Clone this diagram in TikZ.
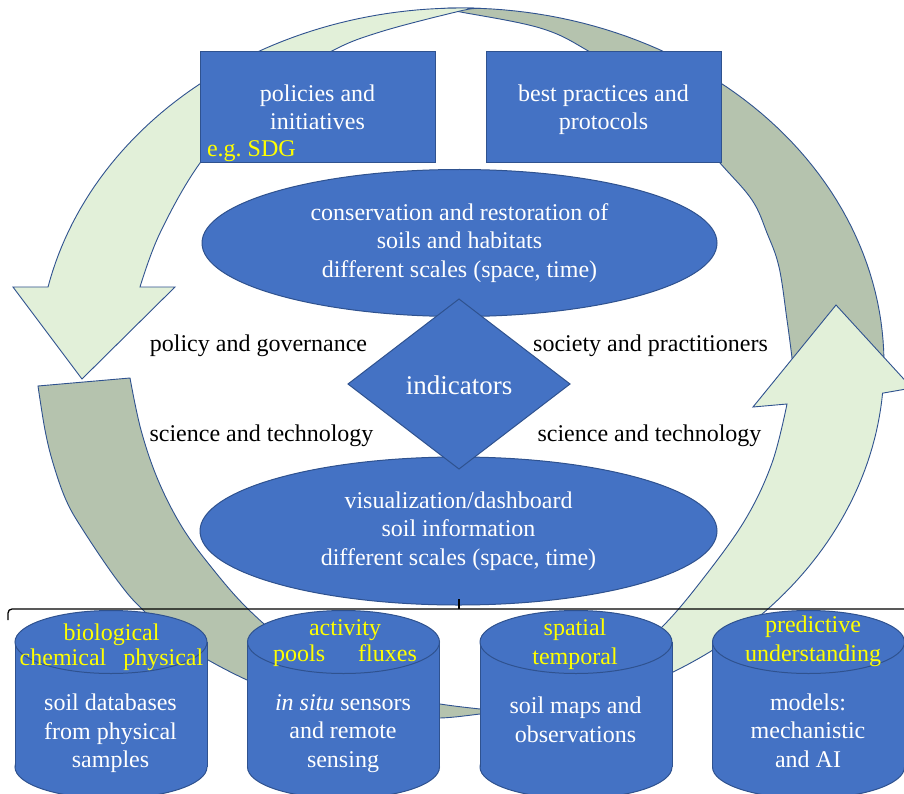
\documentclass[tikz,border=0pt]{standalone}
\usepackage{fontspec}
\setmainfont{Liberation Serif}
\usetikzlibrary{shapes.geometric}
\definecolor{pblue}{HTML}{4472C4}
\definecolor{pedge}{HTML}{2F528F}
\definecolor{lgreen}{HTML}{E2F0D9}
\definecolor{ggreen}{HTML}{B5C3AE}
\definecolor{ylw}{HTML}{FFFF00}
\newcommand{\tstrut}{\rule[-5.5pt]{0pt}{29.5pt}}
\newcommand{\bigstrut}{\rule[-3pt]{0pt}{27pt}}
\begin{document}
\begin{tikzpicture}[x=1pt,y=-1pt,
  every node/.style={inner sep=0pt, outer sep=0pt},
  tx/.style={font={\fontsize{24}{28.5}\selectfont\lineskiplimit=-100pt}, align=center, execute at begin node=\tstrut, execute at end node=\tstrut},
  wt/.style={tx, text=white},
  yt/.style={tx, text=ylw},
  bk/.style={tx, text=black},
  bluebox/.style={rectangle, draw=pedge, fill=pblue, line width=1pt, minimum width=235pt, minimum height=111pt},
  blueell/.style={ellipse, draw=pedge, fill=pblue, line width=1pt, wt},
  arrowlight/.style={draw=pedge, fill=lgreen, line width=0.9pt},
  arrowgray/.style={draw=pedge, fill=ggreen, line width=0.9pt},
  cylfill/.style={fill=pblue},
  cylline/.style={draw=pedge, line width=1pt},
  braceline/.style={draw=black, line width=1.3pt},
]
\useasboundingbox (0,0) rectangle (904,794);
\fill[white] (0,0) rectangle (904,794);

% ---- arrow B (gray, top right)
\filldraw[arrowgray] plot[domain=92.2:-1, samples=60, variable=\t] ({461+423*cos(\t)},{364-356*sin(\t)})
  -- (793,370)
  -- plot[smooth, tension=0.6] coordinates {(793,370) (792,358) (787,320) (779,267) (767,233) (752,200) (720,163) (664,100) (590,52) (540,28) (458,11.5) (445,8.6)}
  -- cycle;
% ---- arrow C (light, bottom right, pointing up)
\filldraw[arrowlight] plot[domain=-79.2:-4.7, samples=60, variable=\t] ({461+423*cos(\t)},{364-356*sin(\t)})
  -- (912,388) -- (836,305) -- (753,407) -- (787,404)
  -- plot[smooth, tension=0.6] coordinates {(787,404) (772,463) (745,520) (702,580) (662,627) (620,662) (580,690) (540,713)}
  -- cycle;
% ---- arrow D (gray, bottom left)
\filldraw[arrowgray] plot[smooth, tension=0.6] coordinates {(38,386) (45,430) (53,463) (66,500) (83,530) (117,580) (143,610) (187,647) (247,680) (300,699) (350,710) (400,716) (440,718) (480,714) (502,711)}
  -- plot[smooth, tension=0.6] coordinates {(502,711) (480,709) (440,704) (390,695) (340,676) (290,645) (247,608) (212,568) (182,527) (158,480) (141,430) (130,378)}
  -- cycle;
% ---- arrow A (light, top left, pointing down)
\filldraw[arrowlight] plot[domain=87.8:167.5, samples=60, variable=\t] ({461+423*cos(\t)},{364-356*sin(\t)})
  -- (13,287) -- (82,379) -- (175,287) -- (140,287)
  -- plot[smooth, tension=0.6] coordinates {(140,287) (160,233) (200,163) (258,96) (330,52) (380,32) (458,11.5) (476,8.6)}
  -- cycle;

% ---- boxes
\node[bluebox] (pol) at (317.5,107.5) {};
\node[wt] (poltxt) at (317.5,110) {policies and\\initiatives};
\node[yt, anchor=west] (sdg) at (207,147) {e.g.\ SDG};
\node[bluebox] (best) at (603.5,107.5) {};
\node[wt] (besttxt) at (603.5,110) {best practices and\\protocols};

% ---- ellipses and diamond
\node[blueell, minimum width=515pt, minimum height=147pt] (cons) at (459.5,243) {conservation and restoration of\\soils and habitats\\different scales (space, time)};
\node[blueell, minimum width=517pt, minimum height=148pt] (vis) at (458.5,531) {visualization/dashboard\\soil information\\different scales (space, time)};
\node[diamond, draw=pedge, fill=pblue, line width=1pt, minimum width=222pt, minimum height=170pt, text=white, font=\fontsize{27}{32}\selectfont, execute at begin node=\bigstrut] (ind) at (459,384) {indicators};

% ---- labels
\node[bk] (pg) at (258.5,342) {policy and governance};
\node[bk] (sp) at (650.5,342) {society and practitioners};
\node[bk] (st1) at (261.5,432) {science and technology};
\node[bk] (st2) at (649.5,432) {science and technology};

% ---- brace
\draw[braceline, rounded corners=4pt] (8,620) -- (8,609) -- (910,609);
\draw[draw=black, line width=1.8pt] (459,609) -- (459,599);

% ---- cylinders
\foreach \cx in {111,343.5,576,808.5}{
  \filldraw[cylfill, cylline] (\cx pt,-767pt) ellipse [x radius=96pt, y radius=31.5pt];
  \fill[cylfill] (\cx-96,642) rectangle (\cx+96,767);
  \draw[cylline] (\cx-96,642) -- (\cx-96,767) (\cx+96,642) -- (\cx+96,767);
  \filldraw[cylfill, cylline] (\cx pt,-642pt) ellipse [x radius=96pt, y radius=31.5pt];
}
\node[yt] (y1) at (111.5,647.5) {biological\\[-3.5pt]chemical\hspace{17pt}physical};
\node[yt] (y2) at (345,643) {activity\\[-2.5pt]pools\hspace{33pt}fluxes};
\node[yt] (y3) at (575,644.5) {spatial\\temporal};
\node[yt] (y4) at (813,641.5) {predictive\\understanding};
\node[wt] (w1) at (110.5,733.5) {soil databases\\from physical\\samples};
\node[wt] (w2) at (343,733.5) {\textit{in situ} sensors\\and remote\\sensing};
\node[wt] (w3) at (575.5,722.5) {soil maps and\\observations};
\node[wt] (w4) at (808,733) {models:\\mechanistic\\and AI};
\end{tikzpicture}
\end{document}
